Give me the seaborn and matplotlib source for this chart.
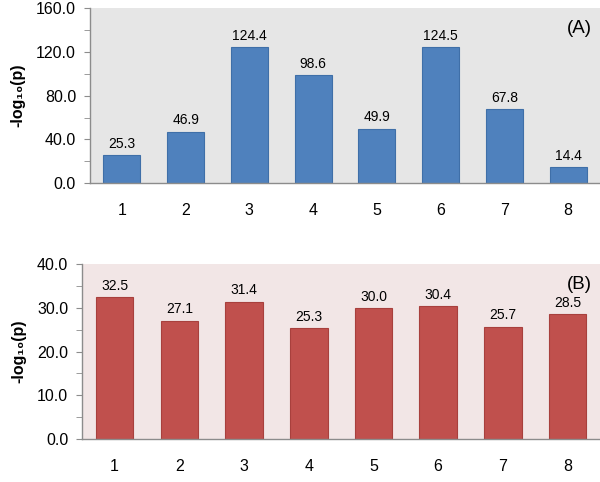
import pandas as pd
import seaborn as sns
import matplotlib
matplotlib.use("Agg")
import matplotlib.pyplot as plt
from matplotlib.ticker import MultipleLocator

# Data
groups = ["1", "2", "3", "4", "5", "6", "7", "8"]
vals_a = [25.3, 46.9, 124.4, 98.6, 49.9, 124.5, 67.8, 14.4]
vals_b = [32.5, 27.1, 31.4, 25.3, 30.0, 30.4, 25.7, 28.5]

sns.set_style("ticks")
plt.rcParams['font.family'] = ['Liberation Sans', 'DejaVu Sans']
plt.rcParams['text.color'] = 'black'
plt.rcParams['xtick.labelcolor'] = 'black'
plt.rcParams['ytick.labelcolor'] = 'black'
plt.rcParams['axes.labelcolor'] = 'black'

fig = plt.figure(figsize=(6, 4.82), dpi=100)
ax1 = fig.add_axes([0.15, 0.620, 0.85, 0.363])
ax2 = fig.add_axes([0.137, 0.089, 0.863, 0.363])


def draw(ax, vals, color, edge, bg, ymax, step, tag):
    df = pd.DataFrame({'grp': groups, 'val': vals})
    sns.barplot(data=df, x='grp', y='val', color=color, saturation=1,
                width=0.58, edgecolor=edge, linewidth=0.8, ax=ax)
    ax.set_facecolor(bg)
    ax.set_xlim(-0.5, 7.5)
    ax.set_ylim(0, ymax)
    ax.yaxis.set_major_locator(MultipleLocator(step))
    ax.yaxis.set_minor_locator(MultipleLocator(step / 2))
    ax.set_yticklabels([f"{t:.1f}" for t in ax.get_yticks()])
    for s in ['top', 'right']:
        ax.spines[s].set_visible(False)
    for s in ['left', 'bottom']:
        ax.spines[s].set_color('#8c8c8c')
        ax.spines[s].set_linewidth(1)
    ax.tick_params(axis='x', length=0, pad=14, labelsize=11.5)
    ax.tick_params(axis='y', which='major', length=4, color='#8c8c8c',
                   pad=6, labelsize=11.5)
    ax.tick_params(axis='y', which='minor', length=4, color='#8c8c8c')
    ax.set_xlabel('')
    ax.set_ylabel('-log₁₀(p)', fontsize=11.5, fontweight='bold', labelpad=8)
    for i, v in enumerate(vals):
        ax.text(i, v + ymax * 0.025, f"{v:.1f}", ha='center', va='bottom',
                fontsize=10)
    ax.text(0.985, 0.93, tag, transform=ax.transAxes, ha='right', va='top',
            fontsize=13.5)


draw(ax1, vals_a, '#4F81BD', '#3F6FA8', '#E6E6E6', 160, 40, '(A)')
draw(ax2, vals_b, '#C0504D', '#A8403D', '#F2E6E6', 40, 10, '(B)')

fig.savefig('out.png', dpi=100)
